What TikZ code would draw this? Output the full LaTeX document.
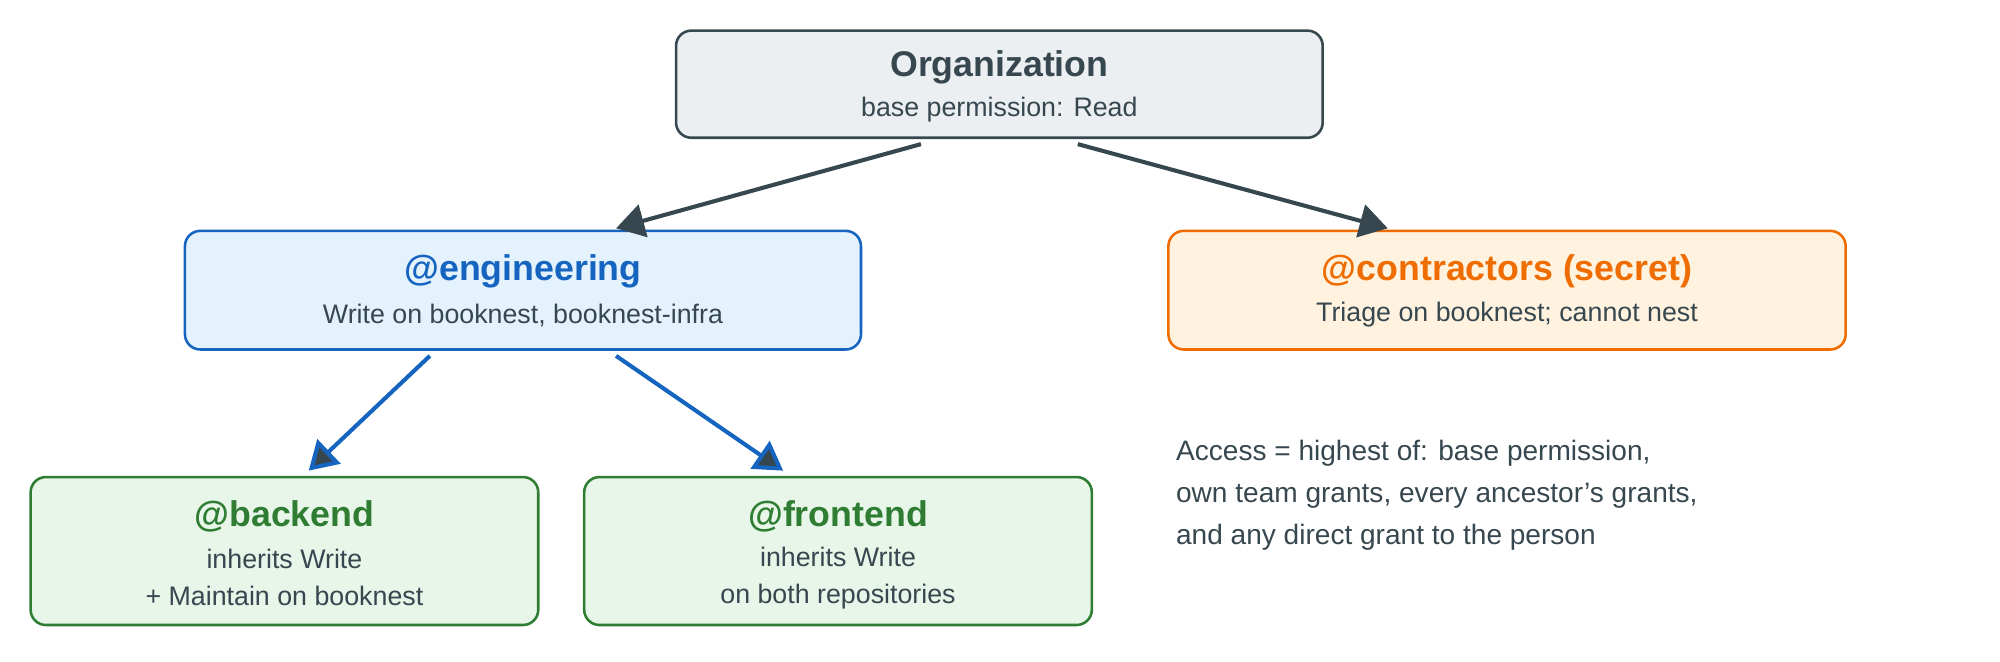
\documentclass[tikz,border=0pt]{standalone}
\usepackage{fontspec}
\setmainfont{Liberation Sans}
\usetikzlibrary{arrows.meta}
\definecolor{dk}{HTML}{37474F}
\definecolor{bl}{HTML}{1565C0}\definecolor{blf}{HTML}{E3F2FD}
\definecolor{or}{HTML}{EF6C00}\definecolor{orf}{HTML}{FFF3E0}
\definecolor{gr}{HTML}{2E7D32}\definecolor{grf}{HTML}{E8F5E9}
\definecolor{gyf}{HTML}{ECEFF1}
\begin{document}
\begin{tikzpicture}[x=0.5pt,y=-0.5pt,
 box/.style={draw=#1,line width=1pt,rounded corners=6pt,align=center,inner sep=0pt},
 ttl/.style={font=\bfseries\fontsize{14}{16}\selectfont},
 sub/.style={font=\fontsize{10.5}{14.5}\selectfont,text=dk},
 arr/.style={line width=1.6pt,draw=#1,-{Triangle[length=11pt,width=13pt,fill=dk]}},
]
\useasboundingbox (0,0) rectangle (1568,519);
\node[box=dk,fill=gyf,minimum width=253.5pt,minimum height=42pt] (org) at (783.5,66) {};
\node[ttl,text=dk] at (783.5,53) {Organization};
\node[sub] at (783.5,86) {base permission: Read};
\node[box=bl,fill=blf,minimum width=265pt,minimum height=46.5pt] (eng) at (410,227.5) {};
\node[ttl,text=bl] at (410,213) {@engineering};
\node[sub] at (410,247) {Write on booknest, booknest-infra};
\node[box=or,fill=orf,minimum width=265.5pt,minimum height=46.5pt] (con) at (1181.5,227.5) {};
\node[ttl,text=or] at (1181.5,213) {@contractors (secret)};
\node[sub] at (1181.5,247) {Triage on booknest; cannot nest};
\node[box=gr,fill=grf,minimum width=199pt,minimum height=58pt] (be) at (223,432) {};
\node[ttl,text=gr] at (223,405) {@backend};
\node[sub,align=center] at (223,453) {inherits Write\\+ Maintain on booknest};
\node[box=gr,fill=grf,minimum width=199pt,minimum height=58pt] (fe) at (657,432) {};
\node[ttl,text=gr] at (657,405) {@frontend};
\node[sub,align=center] at (657,453) {inherits Write\\on both repositories};
\node[sub,align=left,anchor=west,font=\fontsize{11}{16.5}\selectfont] (note) at (915,388) {Access = highest of: base permission,\\own team grants, every ancestor's grants,\\and any direct grant to the person};
\draw[arr=dk] ([xshift=-30.75pt,yshift=-2pt]org.south) -- ([xshift=36.5pt,yshift=0.5pt]eng.north);
\draw[arr=dk] ([xshift=30.75pt,yshift=-2pt]org.south) -- ([xshift=-46.75pt,yshift=0.5pt]con.north);
\draw[arr=bl] ([xshift=-36.5pt,yshift=-2pt]eng.south) -- ([xshift=9.5pt,yshift=2pt]be.north);
\draw[arr=bl] ([xshift=36.5pt,yshift=-2pt]eng.south) -- ([xshift=-21.5pt,yshift=2pt]fe.north);
\end{tikzpicture}
\end{document}
